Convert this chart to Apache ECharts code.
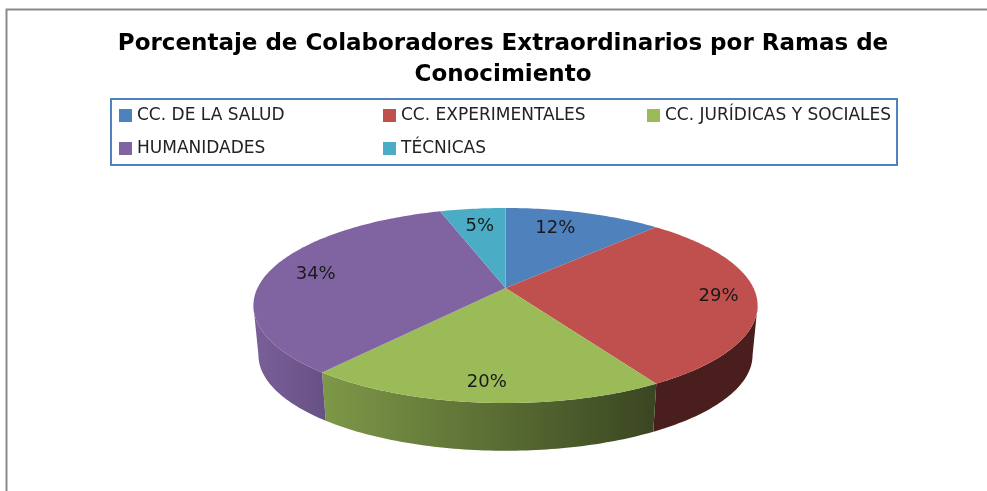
<!DOCTYPE html>
<html>
<head>
<meta charset="utf-8">
<title>Colaboradores Extraordinarios</title>
<style>
  html, body { margin: 0; padding: 0; background: #fff; }
  #main { width: 987px; height: 491px; }
</style>
<script src="https://cdn.jsdelivr.net/npm/echarts@6/dist/echarts.min.js"></script>
</head>
<body>
<div id="main"></div>
<script>
// datos
var categories = ['CC. DE LA SALUD', 'CC. EXPERIMENTALES', 'CC. JURÍDICAS Y SOCIALES', 'HUMANIDADES', 'TÉCNICAS'];
var values = [12, 29.4, 19.6, 34, 5];
var colors = ['#4f81bd', '#c0504d', '#9bbb59', '#8064a2', '#4bacc6'];

// posicion de cada etiqueta dentro de su sector (fraccion de radio, giro en grados)
var labelRadius = [0.75, 0.85, 0.85, 0.8, 0.75];
var labelTurn = [-4, 0, 0, 0, 0];

// pastel en perspectiva
var cx = 505.5, cy = 288, rx = 248, ry = 94.4, persp = 0.1795;
var depth = 50, bottomScale = 0.98;
var total = values.reduce(function (a, b) { return a + b; }, 0);

// angulo donde el borde del disco es mas ancho: ahi termina la cara lateral visible
var rimAngle = 90 + Math.asin(persp) * 180 / Math.PI;

function startAngle(i) {
  var sum = 0;
  for (var k = 0; k < i; k++) sum += values[k];
  return sum / total * 360;
}

// angulo 0 arriba, sentido horario
function project(deg, f, lower) {
  var t = deg * Math.PI / 180;
  var X = Math.sin(t) * f, Y = -Math.cos(t) * f;
  var d = 1 - persp * Y;
  var s = lower ? bottomScale : 1;
  return [cx + s * rx * X / d, cy + (lower ? depth : 0) + s * ry * Y / d];
}

function shade(hex, k) {
  var n = parseInt(hex.slice(1), 16);
  return 'rgb(' + Math.round((n >> 16) * k) + ',' + Math.round(((n >> 8) & 255) * k) + ',' + Math.round((n & 255) * k) + ')';
}

function renderSlice(i) {
  return function () {
    var a0 = startAngle(i), a1 = a0 + values[i] / total * 360;
    var children = [];

    // cara lateral, solo la parte delantera
    var s0 = Math.max(a0, rimAngle), s1 = Math.min(a1, 360 - rimAngle);
    if (s1 > s0) {
      var up = [], down = [];
      for (var d = s0; d < s1; d += 1) {
        up.push(project(d, 1, false));
        down.push(project(d, 1, true));
      }
      up.push(project(s1, 1, false));
      down.push(project(s1, 1, true));
      children.push({
        type: 'polygon',
        z2: 1,
        shape: { points: up.concat(down.reverse()) },
        style: {
          fill: new echarts.graphic.LinearGradient(cx - rx - 3, 0, cx + rx + 3, 0, [
            { offset: 0, color: shade(colors[i], 0.95) },
            { offset: 0.15, color: shade(colors[i], 0.8) },
            { offset: 0.79, color: shade(colors[i], 0.38) },
            { offset: 1, color: shade(colors[i], 0.38) }
          ], true)
        }
      });
    }

    // cara superior
    var pts = [[cx, cy]];
    for (var a = a0; a < a1; a += 1) pts.push(project(a, 1, false));
    pts.push(project(a1, 1, false));
    children.push({
      type: 'polygon',
      z2: 2,
      shape: { points: pts },
      style: { fill: colors[i] }
    });

    // etiqueta
    var p = project((a0 + a1) / 2 + labelTurn[i], labelRadius[i], false);
    children.push({
      type: 'text',
      z2: 3,
      x: p[0],
      y: p[1],
      style: {
        text: Math.round(values[i]) + '%',
        fill: '#1a1a1a',
        font: '18px "DejaVu Sans"',
        align: 'center',
        verticalAlign: 'middle'
      }
    });
    return { type: 'group', children: children };
  };
}

var chart = echarts.init(document.getElementById('main'), null, { renderer: 'canvas' });

var option = {
  animation: false,
  backgroundColor: '#fff',
  title: {
    text: 'Porcentaje de Colaboradores Extraordinarios por Ramas de\nConocimiento',
    left: 498,
    top: 24,
    textAlign: 'center',
    textStyle: {
      fontFamily: 'DejaVu Sans',
      fontWeight: 'bold',
      fontSize: 23,
      lineHeight: 31,
      color: '#000'
    }
  },
  legend: {
    left: 111,
    top: 99,
    width: 782,
    padding: [0, 0, 0, 8],
    borderColor: '#4f81bd',
    borderWidth: 2,
    backgroundColor: '#fff',
    icon: 'rect',
    itemWidth: 13,
    itemHeight: 13,
    itemGap: 0,
    selectedMode: false,
    data: categories.map(function (name, i) {
      // la ultima columna es mas estrecha para caber en el recuadro
      return i === 2 ? { name: name, textStyle: { width: 232 } } : { name: name };
    }),
    textStyle: {
      fontFamily: 'DejaVu Sans',
      fontSize: 17,
      color: '#222',
      width: 246,
      lineHeight: 33
    }
  },
  series: categories.map(function (name, i) {
    return {
      type: 'custom',
      name: name,
      coordinateSystem: 'none',
      silent: true,
      itemStyle: { color: colors[i] },
      data: [values[i]],
      renderItem: renderSlice(i)
    };
  }),
  // marco de la imagen original
  graphic: [{
    type: 'polyline',
    shape: { points: [[6.5, 491], [6.5, 9.5], [987, 9.5]] },
    style: { stroke: '#8a8a8a', lineWidth: 2, fill: null },
    silent: true
  }]
};

chart.setOption(option);
</script>
</body>
</html>
